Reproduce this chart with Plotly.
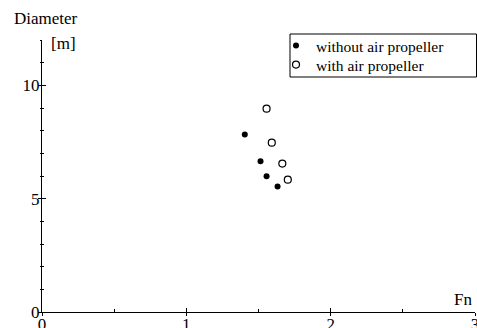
import plotly.graph_objects as go

# Data
fn_without = [1.405, 1.514, 1.556, 1.632]
d_without = [7.83, 6.65, 5.99, 5.54]
fn_with = [1.556, 1.592, 1.665, 1.703]
d_with = [8.97, 7.47, 6.55, 5.84]

x_ticks = [0, 1, 2, 3]
y_ticks = [0, 5, 10]

W, H = 477, 328
L, R, T, B = 42, 2, 40, 16
pw, ph = W - L - R, H - T - B

def px(xp):
    return (xp - L) / pw

def py(yp):
    return (H - B - yp) / ph

FONT = "Liberation Serif"
FS = 17
LFS = 15.5

fig = go.Figure()
fig.add_trace(go.Scatter(
    x=fn_without, y=d_without, mode="markers", name="without air propeller",
    legend="legend",
    marker=dict(symbol="circle", size=6, color="black", line=dict(width=0)),
))
fig.add_trace(go.Scatter(
    x=fn_with, y=d_with, mode="markers", name="with air propeller",
    legend="legend2",
    marker=dict(symbol="circle-open", size=7, color="black", line=dict(width=1.2, color="black")),
))
# invisible trace to carry the secondary (outside-tick) axes
fig.add_trace(go.Scatter(x=[], y=[], xaxis="x2", yaxis="y2", showlegend=False, hoverinfo="skip"))

common = dict(showgrid=False, zeroline=False, automargin=False, tickcolor="black", tickwidth=1)

fig.update_layout(
    showlegend=True,
    xaxis=dict(range=[0, 3], tickvals=x_ticks, ticktext=[str(v) for v in x_ticks],
               showline=True, linecolor="black", linewidth=1,
               ticks="inside", ticklen=4, ticklabelstandoff=-3,
               minor=dict(ticks="inside", ticklen=3, dtick=0.5, tickcolor="black"),
               tickfont=dict(family=FONT, size=FS, color="black"),
               ticklabeloverflow="allow", **common),
    yaxis=dict(range=[0, 12], tickvals=y_ticks, ticktext=[str(v) for v in y_ticks],
               showline=True, linecolor="black", linewidth=1,
               ticks="inside", ticklen=4, ticklabelstandoff=-2,
               minor=dict(ticks="inside", ticklen=2, dtick=1, tickcolor="black"),
               tickfont=dict(family=FONT, size=FS, color="black"),
               ticklabeloverflow="allow", **common),
    xaxis2=dict(range=[0, 3], overlaying="x", anchor="y", side="bottom",
                tickvals=x_ticks, showticklabels=False, showline=False,
                ticks="outside", ticklen=3,
                minor=dict(ticks="outside", ticklen=0, dtick=0.5, tickcolor="black"),
                **common),
    yaxis2=dict(range=[0, 12], overlaying="y", anchor="x", side="left",
                tickvals=y_ticks, showticklabels=False, showline=False,
                ticks="outside", ticklen=3,
                minor=dict(ticks="outside", ticklen=1, dtick=1, tickcolor="black"),
                **common),
    width=W, height=H,
    margin=dict(l=L, r=R, t=T, b=B),
    paper_bgcolor="white", plot_bgcolor="white",
    font=dict(family=FONT, size=FS, color="black"),
    legend=dict(
        x=px(276), y=py(46), xanchor="left", yanchor="middle",
        borderwidth=0, bgcolor="rgba(0,0,0,0)",
        font=dict(family=FONT, size=LFS, color="black"),
    ),
    legend2=dict(
        x=px(276), y=py(65), xanchor="left", yanchor="middle",
        borderwidth=0, bgcolor="rgba(0,0,0,0)",
        font=dict(family=FONT, size=LFS, color="black"),
    ),
    shapes=[
        dict(type="rect", xref="paper", yref="paper",
             x0=px(290), x1=px(476.5), y0=py(77), y1=py(34),
             line=dict(color="black", width=1), fillcolor="rgba(0,0,0,0)", layer="below"),
    ],
    annotations=[
        dict(text="Diameter", x=px(12), y=py(18), xref="paper", yref="paper",
             xanchor="left", yanchor="middle", showarrow=False,
             font=dict(family=FONT, size=FS, color="black")),
        dict(text="[m]", x=px(49), y=py(44), xref="paper", yref="paper",
             xanchor="left", yanchor="middle", showarrow=False,
             font=dict(family=FONT, size=FS, color="black")),
        dict(text="Fn", x=px(474), y=py(299), xref="paper", yref="paper",
             xanchor="right", yanchor="middle", showarrow=False,
             font=dict(family=FONT, size=FS, color="black")),
    ],
)

fig.write_html("out.html")
